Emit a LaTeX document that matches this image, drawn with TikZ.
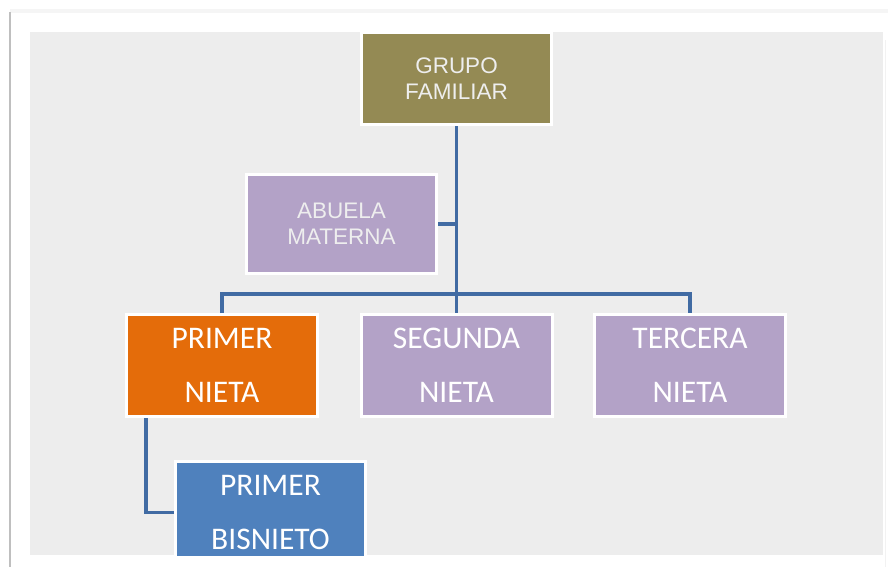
\documentclass[tikz,border=0pt]{standalone}
\usepackage{fontspec}
\newfontfamily\arialf{Liberation Sans}
\newfontfamily\calf{Carlito}
\usetikzlibrary{calc}
\definecolor{panelgray}{HTML}{EDEDED}
\definecolor{olivebg}{HTML}{948A54}
\definecolor{lilac}{HTML}{B3A2C7}
\definecolor{orangebg}{HTML}{E46C0A}
\definecolor{bluebg}{HTML}{4F81BD}
\definecolor{linkblue}{HTML}{416BA3}
\definecolor{lighttext}{HTML}{EEEEEE}
\begin{document}
\begin{tikzpicture}[x=1pt,y=-1pt,
  orgbox/.style={draw=white, line width=3pt, inner sep=0pt, align=center},
  smallbox/.style={orgbox, minimum width=190pt, minimum height=96pt,
    text=lighttext, font=\arialf\fontsize{22.5}{26}\selectfont},
  bigbox/.style={orgbox, minimum width=191pt, minimum height=102pt,
    text=white, font=\calf\fontsize{31.5}{54}\selectfont},
  conn/.style={draw=linkblue, line width=3.6pt}]
\useasboundingbox (0,0) rectangle (888,567);
\fill[white] (0,0) rectangle (888,567);
% card edges
\fill[black!4] (10,9) rectangle (888,13);
\fill[black!25] (9.3,12) rectangle (11.3,567);
\fill[black!5] (884.5,40) rectangle (886,567);
% panel
\fill[panelgray] (30,32) rectangle (883,555);
\begin{scope}
\clip (30,32) rectangle (883,555);
\node[smallbox, fill=olivebg, minimum height=92pt] (gf) at (456.5,79) {GRUPO\\FAMILIAR};
\node[smallbox, fill=lilac, minimum height=99pt] (ab) at (341.5,224) {ABUELA\\MATERNA};
\node[bigbox, fill=orangebg] (pn) at (222,365.5) {PRIMER\\NIETA};
\node[bigbox, fill=lilac] (sn) at (456.5,365.5) {SEGUNDA\\NIETA};
\node[bigbox, fill=lilac] (tn) at (690,365.5) {TERCERA\\NIETA};
\node[bigbox, fill=bluebg, minimum width=190pt] (bn) at (270.5,512.5) {PRIMER\\BISNIETO};
\coordinate (bar) at (456.5,294);
\draw[conn] (gf.south) -- (sn.north);
\draw[conn] (ab.east) -- (ab.east -| gf.south);
\draw[conn] (pn.north) |- (bar) -| (tn.north);
\draw[conn] ([xshift=-76pt]pn.south) |- (bn.west);
\end{scope}
\end{tikzpicture}
\end{document}
